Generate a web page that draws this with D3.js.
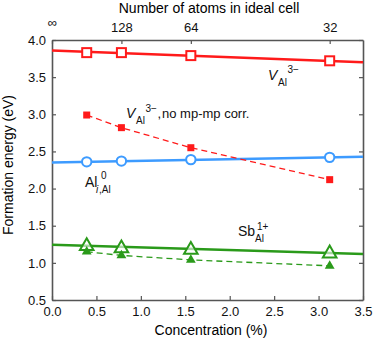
<!DOCTYPE html>
<html><head><meta charset="utf-8">
<script src="https://cdn.jsdelivr.net/npm/d3@7"></script>
<style>body{margin:0;background:#fff}svg{font-family:"Liberation Sans",Arial,sans-serif}</style>
</head><body><svg id="c" width="374" height="342"></svg>
<script>
const conc = [0.390625, 0.78125, 1.5625, 3.125];
const vacCorr = [3.83, 3.83, 3.79, 3.72];
const vacNoCorr = [2.99, 2.82, 2.55, 2.12];
const interst = [2.36, 2.37, 2.39, 2.42];
const sbCorr = [1.24, 1.21, 1.19, 1.14];
const sbNoCorr = [1.15, 1.10, 1.04, 0.96];
const vacFit = [[0, 3.86], [3.5, 3.70]];
const interstFit = [[0, 2.35], [3.5, 2.43]];
const sbFit = [[0, 1.245], [3.5, 1.12]];
const xTicks = [0, 0.5, 1, 1.5, 2, 2.5, 3, 3.5];
const yTicks = [0.5, 1, 1.5, 2, 2.5, 3, 3.5, 4];
const topTickVals = [0, 0.78125, 1.5625, 3.125];
const topTickLabels = ["∞", "128", "64", "32"];

const svg = d3.select("#c");
const x = d3.scaleLinear().domain([0, 3.5]).range([52, 363]);
const y = d3.scaleLinear().domain([0.5, 4]).range([300, 40]);
const red = "#ff1a1a", blue = "#3d9bff", green = "#2a9a1a", axc = "#555";

const gB = svg.append("g").attr("transform", "translate(0,300)")
  .call(d3.axisBottom(x).tickValues(xTicks).tickFormat(d3.format(".1f")).tickSizeInner(-4).tickSizeOuter(0).tickPadding(7));
const gL = svg.append("g").attr("transform", "translate(52,0)")
  .call(d3.axisLeft(y).tickValues(yTicks).tickFormat(d3.format(".1f")).tickSizeInner(-4).tickSizeOuter(0).tickPadding(6));
const gR = svg.append("g").attr("transform", "translate(363,0)")
  .call(d3.axisRight(y).tickValues(yTicks).tickFormat("").tickSizeInner(-4).tickSizeOuter(0));
const gT = svg.append("g").attr("transform", "translate(0,40)")
  .call(d3.axisTop(x).tickValues(topTickVals).tickFormat((d, i) => topTickLabels[i]).tickSizeInner(-4).tickSizeOuter(0).tickPadding(8));
[gB, gL, gR, gT].forEach(g => {
  g.selectAll("path").attr("stroke", axc).attr("stroke-width", 1.6);
  g.selectAll("line").attr("stroke", axc).attr("stroke-width", 1.2);
  g.selectAll("text").attr("fill", "#111").style("font-size", "13px").style("font-family", "Liberation Sans, Arial, sans-serif");
});
gT.selectAll("text").filter((d, i) => i === 0).attr("dy", "-0.35em").style("font-size", "13px");

svg.append("text").attr("x", 211).attr("y", 335).attr("text-anchor", "middle").style("font-size", "14px").text("Concentration (%)");
svg.append("text").attr("x", 209).attr("y", 13).attr("text-anchor", "middle").style("font-size", "14px").text("Number of atoms in ideal cell");
svg.append("text").attr("transform", "translate(13,165) rotate(-90)").attr("text-anchor", "middle").style("font-size", "14px").text("Formation energy (eV)");

const line = d3.line().x(d => x(d[0])).y(d => y(d[1]));
const plot = svg.append("g");
[[vacFit, red], [interstFit, blue], [sbFit, green]].forEach(([d, c]) => {
  plot.append("path").attr("d", line(d)).attr("fill", "none").attr("stroke", c).attr("stroke-width", 2.5);
});
[[vacNoCorr, red], [sbNoCorr, green]].forEach(([v, c]) => {
  plot.append("path").attr("d", line(conc.map((cc, i) => [cc, v[i]]))).attr("fill", "none")
    .attr("stroke", c).attr("stroke-width", 1.3).attr("stroke-dasharray", "6,4");
});
plot.selectAll(".sq").data(conc).enter().append("rect")
  .attr("x", d => x(d) - 4.5).attr("y", (d, i) => y(vacCorr[i]) - 4.5).attr("width", 9).attr("height", 9)
  .attr("fill", "#fff").attr("stroke", red).attr("stroke-width", 2);
plot.selectAll(".fsq").data(conc).enter().append("rect")
  .attr("x", d => x(d) - 3.5).attr("y", (d, i) => y(vacNoCorr[i]) - 3.5).attr("width", 7).attr("height", 7)
  .attr("fill", red);
plot.selectAll(".ci").data(conc).enter().append("circle")
  .attr("cx", d => x(d)).attr("cy", (d, i) => y(interst[i])).attr("r", 4.7)
  .attr("fill", "#fff").attr("stroke", blue).attr("stroke-width", 2);
const tri = d3.symbol().type(d3.symbolTriangle);
plot.selectAll(".otr").data(conc).enter().append("path")
  .attr("transform", (d, i) => `translate(${x(d)},${y(sbCorr[i]) + 1})`).attr("d", tri.size(80)())
  .attr("fill", "#fff").attr("fill-opacity", 0.6).attr("stroke", green).attr("stroke-width", 2);
plot.selectAll(".ftr").data(conc).enter().append("path")
  .attr("transform", (d, i) => `translate(${x(d)},${y(sbNoCorr[i])})`).attr("d", tri.size(42)())
  .attr("fill", green);

function lab(xp, yp, parts) {
  const t = svg.append("text").attr("x", xp).attr("y", yp).style("font-size", "14px").attr("fill", "#111");
  parts.forEach(p => {
    const s = t.append("tspan").attr("x", xp + p.dx).attr("y", yp + p.dy).style("font-size", p.fs + "px").text(p.t);
    if (p.it) s.style("font-style", "italic");
  });
}
lab(268, 80, [{t: "V", dx: 0, dy: 0, fs: 14, it: true}, {t: "Al", dx: 10, dy: 6, fs: 10}, {t: "3−", dx: 19.5, dy: -7, fs: 10}]);
lab(126, 118, [{t: "V", dx: 0, dy: 0, fs: 14, it: true}, {t: "Al", dx: 10, dy: 6, fs: 10}, {t: "3−", dx: 19.5, dy: -6, fs: 10},
  {t: ",", dx: 31.5, dy: 0, fs: 13}, {t: "no mp-mp corr.", dx: 36, dy: 0, fs: 13}]);
lab(85, 187, [{t: "Al", dx: 0, dy: 0, fs: 14}, {t: "i", dx: 11, dy: 6, fs: 10, it: true}, {t: ",Al", dx: 14, dy: 6, fs: 10}, {t: "0", dx: 16, dy: -8, fs: 10}]);
lab(238, 236, [{t: "Sb", dx: 0, dy: 0, fs: 14}, {t: "Al", dx: 17, dy: 6, fs: 10}, {t: "1+", dx: 19, dy: -6, fs: 10}]);
</script></body></html>
